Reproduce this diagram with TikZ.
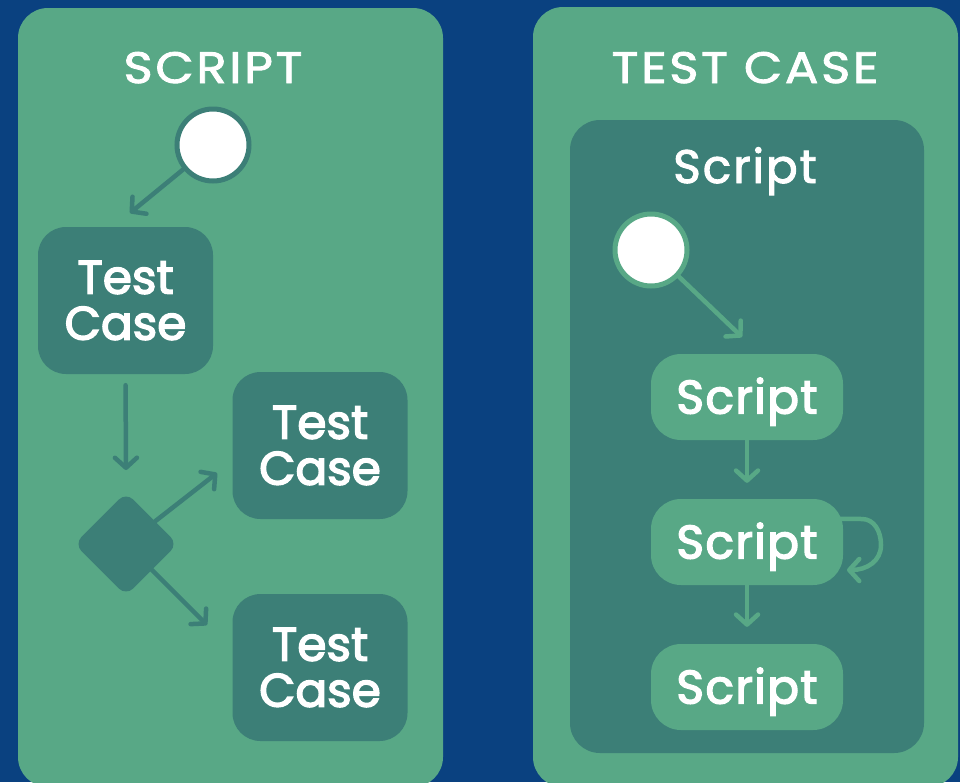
\documentclass[tikz,border=0pt]{standalone}
\usepackage{fontspec}
\setmainfont{Poppins}[FakeBold=3]
\newfontfamily\titlefont{Poppins}[FakeStretch=1.13,LetterSpace=6,FakeBold=2]
\newfontfamily\subtitlefont{Poppins}[LetterSpace=4,FakeBold=2]
\newfontfamily\boxfont{Poppins}[LetterSpace=3,FakeBold=3]
\usetikzlibrary{arrows.meta}
\definecolor{bgblue}{HTML}{0A4180}
\definecolor{pgreen}{HTML}{58A886}
\definecolor{dteal}{HTML}{3C7F77}
\begin{document}
\begin{tikzpicture}[x=1pt,y=-1pt,
  panel/.style={fill=pgreen,rounded corners=30pt},
  inner/.style={fill=dteal,rounded corners=30pt},
  title/.style={text=white,anchor=base,inner sep=0pt,font=\titlefont\fontsize{44}{44}\selectfont},
  startc/.style={circle,fill=white,line width=5pt,minimum size=72pt,inner sep=0pt},
  tcbox/.style={rectangle,rounded corners=28pt,fill=dteal,text=white,minimum width=175pt,minimum height=147pt,align=center,inner sep=0pt,font=\fontsize{47}{46}\selectfont},
  scbox/.style={rectangle,rounded corners=30pt,fill=pgreen,text=white,minimum width=192pt,minimum height=86pt,inner sep=0pt,text height=33pt,text depth=0pt,font=\boxfont\fontsize{47}{46}\selectfont},
  diam/.style={rectangle,fill=dteal,minimum size=73pt,rotate=45,rounded corners=10pt,inner sep=0pt},
  arrbase/.style={line width=4.5pt,line cap=round,-{Straight Barb[length=10pt,width=22pt,round]}},
  arrL/.style={arrbase,draw=dteal},
  arrR/.style={arrbase,draw=pgreen}]
\useasboundingbox (0,0) rectangle (960,782);
\clip (0,0) rectangle (960,782);
\fill[bgblue] (0,0) rectangle (960,782);
% panels
\path[panel] (18,8) rectangle (443,787);
\path[panel] (533,7) rectangle (958,787);
\path[inner] (570,120) rectangle (924,753);
% titles
\node[title] (t1) at (213,83) {SCRIPT};
\node[title] (t2) at (745,83) {TEST CASE};
\node[title,font=\subtitlefont\fontsize{47}{47}\selectfont] (t3) at (745,183) {Script};
% left diagram
\node[startc,draw=dteal] (c1) at (213,145) {};
\node[tcbox] (tc1) at (125.5,300.5) {Test\\Case};
\node[tcbox] (tc2) at (320,445.5) {Test\\Case};
\node[tcbox] (tc3) at (320,667.5) {Test\\Case};
\node[diam] (dia) at (126,544) {};
\coordinate (e0) at (126,470);
\coordinate (e1) at (130,213);
\coordinate (e2) at (217,473);
\coordinate (e3) at (207,625);
\draw[arrL] (c1) -- (e1);
\draw[arrL,shorten <=11pt] (tc1.south) -- (e0);
\draw[arrL] (dia) -- (e2);
\draw[arrL] (dia) -- (e3);
% right diagram
\node[startc,draw=pgreen] (c2) at (651,250) {};
\node[scbox] (s1) at (747,397) {Script};
\node[scbox] (s2) at (747,542) {Script};
\node[scbox] (s3) at (747,687) {Script};
\coordinate (r1) at (742,337);
\coordinate (loopend) at (847,570);
\draw[arrR] (c2) -- (r1);
\draw[arrR,shorten >=16pt] (s1.south) -- (s2.north);
\draw[arrR,shorten >=17pt] (s2.south) -- (s3.north);
\draw[arrR] ([xshift=-4pt,yshift=-20pt]s2.north east) -- (862,519) .. controls (874,519) and (881,531) .. (881,545) .. controls (881,561) and (867,570) .. (loopend);
\end{tikzpicture}
\end{document}
